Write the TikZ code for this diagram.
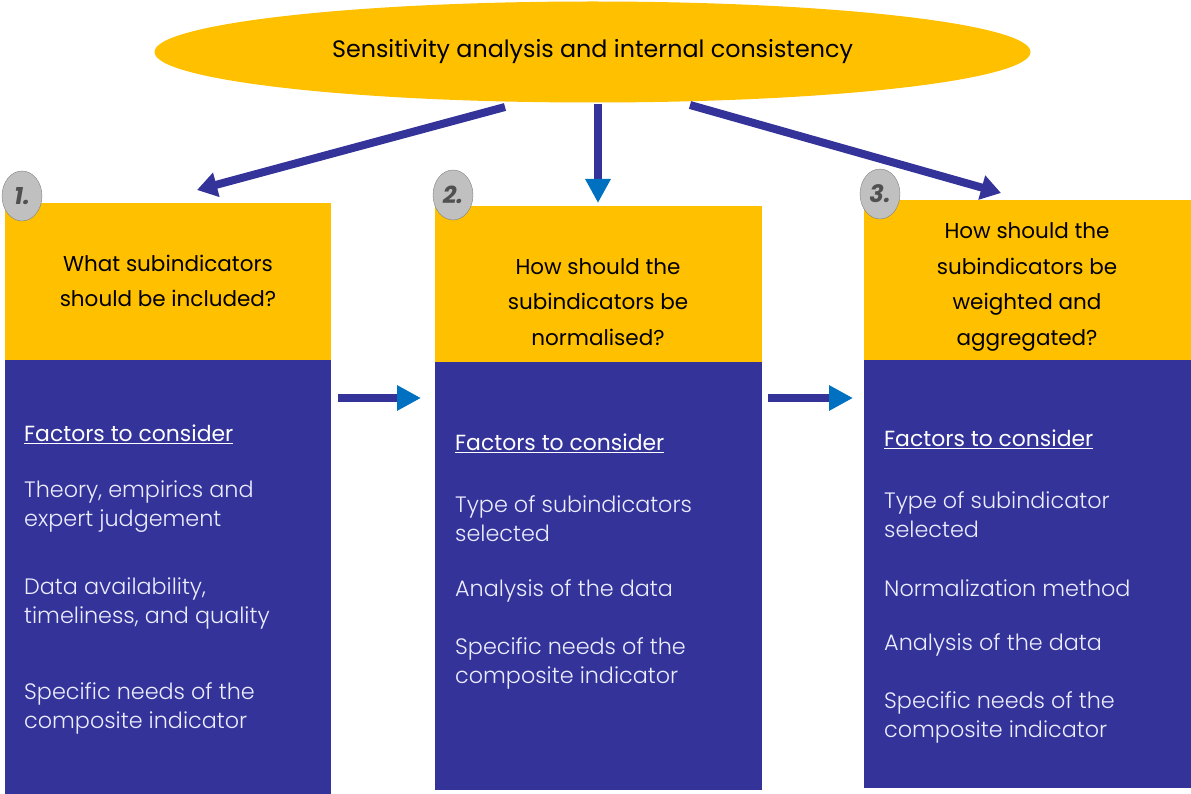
\documentclass[tikz,border=0pt]{standalone}
\usepackage{fontspec}
\setmainfont{Poppins}
\newfontfamily\lightfont{Poppins Light}
\usetikzlibrary{arrows.meta,shapes.geometric}
\definecolor{ayellow}{HTML}{FFC000}
\definecolor{ablue}{HTML}{333399}
\definecolor{tblue}{HTML}{0070C0}
\definecolor{cgray}{HTML}{C0C0C0}
\definecolor{ngray}{HTML}{505050}
\definecolor{btext}{HTML}{ECECFF}
\tikzset{
  ybox/.style={fill=ayellow},
  bbox/.style={fill=ablue},
  ttl/.style={align=center,font=\fontsize{21.5}{35.5}\selectfont,text=black,inner sep=0},
  body/.style={anchor=west,align=left,font=\lightfont\fontsize{22.3}{29}\selectfont,text=btext,inner sep=0},
  fac/.style={anchor=west,font=\fontsize{21.9}{29}\selectfont,text=white,inner sep=0},
  numc/.style={ellipse,fill=cgray,draw=gray,minimum width=40,minimum height=50,inner sep=0,font=\bfseries\itshape\fontsize{24}{24}\selectfont,text=ngray},
  darr/.style={ablue,line width=8,-{Triangle[length=20,width=24]}},
  larr/.style={ablue,line width=8,-{Triangle[length=24,width=24,color=tblue]}},
}
\begin{document}
\begin{tikzpicture}[x=1pt,y=-1pt]
\useasboundingbox (0,0) rectangle (1191,794);
% top ellipse
\node[ellipse,fill=ayellow,minimum width=876,minimum height=101,inner sep=0] (top) at (592.5,52) {};
\node[font=\fontsize{23.8}{26}\selectfont,inner sep=0] (toptxt) at (592.5,52) {Sensitivity analysis and internal consistency};
% boxes
\fill[ybox] (5,203) rectangle (331,360);
\fill[bbox] (5,360) rectangle (331,794);
\fill[ybox] (435,206) rectangle (762,362);
\fill[bbox] (435,362) rectangle (762,790);
\fill[ybox] (864,200) rectangle (1191,360);
\fill[bbox] (864,360) rectangle (1191,788);
% circles
\node[numc] (n1) at (22,196) {1.};
\node[numc] (n2) at (453,195) {2.};
\node[numc] (n3) at (880,194) {3.};
% titles
\node[ttl] (t1) at (168,281) {What subindicators\\should be included?};
\node[ttl] (t2) at (598,302) {How should the\\subindicators be\\normalised?};
\node[ttl] (t3) at (1027,287) {How should the\\subindicators be\\weighted and\\aggregated?};
% body 1
\node[fac] (f1) at (24,434) {\underline{Factors to consider}};
\node[body] (a1) at (24,507) {Theory, empirics and\\expert judgement};
\node[body] (a2) at (24,603) {Data availability,\\timeliness, and quality};
\node[body] (a3) at (24,708) {Specific needs of the\\composite indicator};
% body 2
\node[fac] (f2) at (455,443) {\underline{Factors to consider}};
\node[body] (b1) at (455,519) {Type of subindicators\\selected};
\node[body] (b2) at (455,591) {Analysis of the data};
\node[body] (b3) at (455,663) {Specific needs of the\\composite indicator};
% body 3
\node[fac] (f3) at (884,439) {\underline{Factors to consider}};
\node[body] (c1) at (884,515) {Type of subindicator\\selected};
\node[body] (c2) at (884,588) {Normalization method};
\node[body] (c3) at (884,645) {Analysis of the data};
\node[body] (c4) at (884,717) {Specific needs of the\\composite indicator};
% arrow coordinates
\coordinate (s1) at (505,107);
\coordinate (e1) at (197,190);
\coordinate (s2) at (598,104);
\coordinate (e2) at (598,203);
\coordinate (s3) at (690,105);
\coordinate (e3) at (1001,193);
\coordinate (s4) at (338,398);
\coordinate (e4) at (421,398);
\coordinate (s5) at (768,398);
\coordinate (e5) at (853,398);
\draw[darr] (s1) -- (e1);
\draw[larr] (s2) -- (e2);
\draw[darr] (s3) -- (e3);
\draw[larr] (s4) -- (e4);
\draw[larr] (s5) -- (e5);
\end{tikzpicture}
\end{document}
